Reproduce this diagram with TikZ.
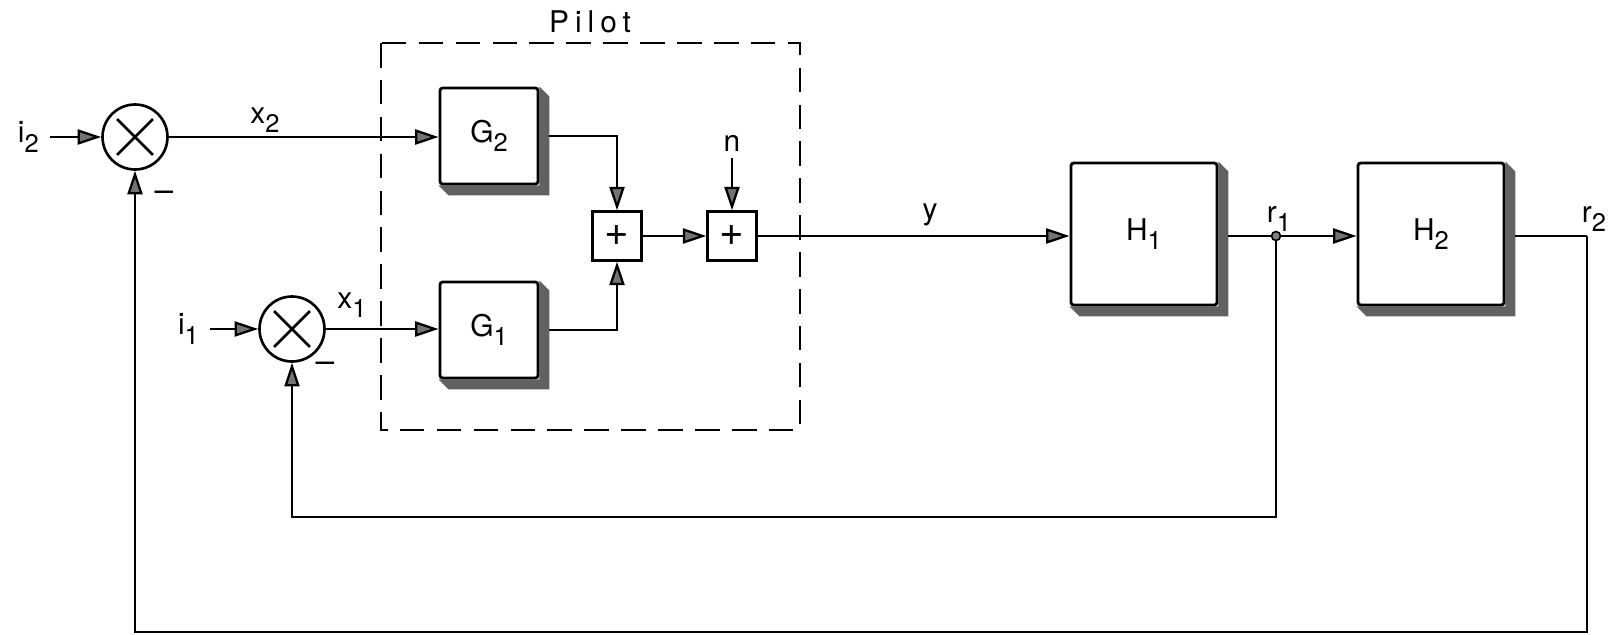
\documentclass[tikz,border=0pt]{standalone}
\usepackage{fontspec}
\setmainfont{TeX Gyre Heros}
\usetikzlibrary{arrows.meta, positioning}

\newcommand{\lsub}[2]{#1\raisebox{-0.6ex}{\fontsize{14.5}{15}\selectfont #2}}

\begin{document}
\begin{tikzpicture}[
      x=0.02cm, y=-0.02cm,
      font=\fontsize{17}{20}\selectfont,
      block/.style={rectangle, draw, line width=1.6pt, fill=white, rounded corners=1.5pt, minimum width=1.96cm, minimum height=1.92cm,
        append after command={
          \pgfextra{\fill[black!62] (\tikzlastnode.north east) -- ([xshift=0.2cm, yshift=-0.2cm]\tikzlastnode.north east)
            -- ([xshift=0.2cm, yshift=-0.2cm]\tikzlastnode.south east) -- ([xshift=0.2cm, yshift=-0.2cm]\tikzlastnode.south west)
            -- (\tikzlastnode.south west) -- (\tikzlastnode.south east) -- cycle;}}},
      bigblock/.style={block, minimum width=2.92cm, minimum height=2.84cm},
      adder/.style={rectangle, draw, line width=1.3pt, minimum size=0.98cm, inner sep=0pt, font=\fontsize{24}{24}\selectfont},
      comparator/.style={circle, draw, line width=1.5pt, minimum size=1.3cm, inner sep=0pt,
        path picture={\draw[line width=1.5pt] (path picture bounding box.center) +(-0.36cm,-0.36cm) -- +(0.36cm,0.36cm) +(-0.36cm,0.36cm) -- +(0.36cm,-0.36cm);}},
      junction/.style={circle, draw, fill=black!50, line width=0.9pt, minimum size=0.18cm, inner sep=0pt},
      minus/.style={font=\fontsize{19}{19}\selectfont},
      arrow/.style={-{Triangle[length=0.47cm, width=0.3cm, fill=black!55]}, line width=1.3pt},
      line/.style={line width=1.3pt}
  ]
      \useasboundingbox (0,0) rectangle (1609,635);

      % Comparators
      \node[comparator] (cmp2) at (135,137) {};
      \node[comparator] (cmp1) at (292,329) {};
      \node[minus] (m2) at (164,196) {--};
      \node[minus] (m1) at (325,367) {--};

      % Pilot
      \draw[line width=1.4pt, dash pattern=on 14pt off 7pt] (381,43) rectangle (800,430);
      \node (pilot) at (590,22) {\addfontfeature{LetterSpace=20}Pilot};
      \node[block] (G2) at (489,136) {\lsub{G}{2}};
      \node[block] (G1) at (489,330) {\lsub{G}{1}};
      \node[adder] (addG) at (617,236) {+};
      \node[adder] (addN) at (732,236) {+};

      % Plant blocks
      \node[bigblock] (H1) at (1144,234) {\lsub{H}{1}};
      \node[bigblock] (H2) at (1431,234) {\lsub{H}{2}};
      \node[junction] (r1) at (1276,236) {};
      \coordinate (r2) at (1587,236);

      % Inputs and labels
      \coordinate (i2in) at (50,137);
      \coordinate (i1in) at (210,329);
      \coordinate (nin) at (732,158);
      \node[left=0.1cm of i2in] (i2) {\lsub{i}{2}};
      \node[left=0.1cm of i1in] (i1) {\lsub{i}{1}};
      \node[above=0cm of nin] (n) {n};
      \node (x2) at (265,120) {\lsub{x}{2}};
      \node (x1) at (352,305) {\lsub{x}{1}};
      \node (y) at (930,215) {y};
      \node (r1lbl) at (1279,219) {\lsub{r}{1}};
      \node (r2lbl) at (1594,219) {\lsub{r}{2}};

      % Feedback corners
      \coordinate (fb1) at (292,517);
      \coordinate (fb2) at (135,632);

      % Arrows
      \draw[arrow] (i2in) -- (cmp2);
      \draw[arrow] (i1in) -- (cmp1);
      \draw[arrow] (cmp2) -- (cmp2 -| G2.west);
      \draw[arrow] (cmp1) -- (cmp1 -| G1.west);
      \draw[arrow] ([xshift=0.2cm]G2.east) -| (addG);
      \draw[arrow] ([xshift=0.2cm]G1.east) -| (addG);
      \draw[arrow] (addG) -- (addN);
      \draw[arrow] (nin) -- (addN);
      \draw[arrow] (addN) -- (addN -| H1.west);
      \draw[line] ([xshift=0.2cm]H1.east |- r1) -- (r1);
      \draw[arrow] (r1) -- (r1 -| H2.west);
      \draw[line] ([xshift=0.2cm]H2.east |- r2) -- (r2);
      \draw[arrow] (r1) |- (fb1) -- (cmp1);
      \draw[arrow] (r2) |- (fb2) -- (cmp2);
  \end{tikzpicture}
\end{document}
